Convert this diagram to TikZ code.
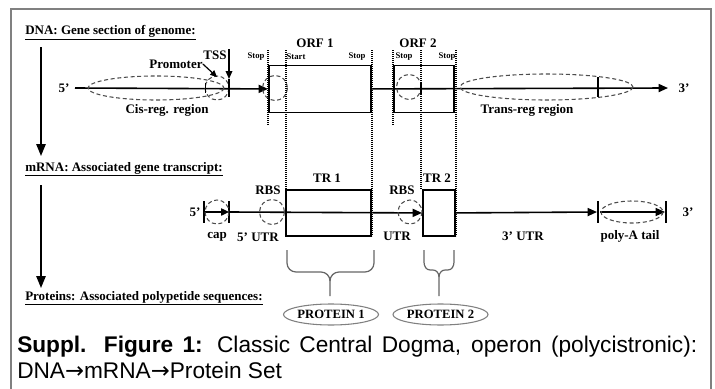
\documentclass[tikz,border=0pt]{standalone}
\usepackage{fontspec}
\setmainfont{Liberation Serif}
\newfontfamily\capfont{Liberation Sans}
\newfontfamily\arrfont{DejaVu Sans}
\usetikzlibrary{arrows.meta,shapes.geometric}
\begin{document}
\begin{tikzpicture}[x=0.75pt,y=-0.75pt,
  lbl/.style={font=\fontsize{9.75}{11}\selectfont\bfseries, inner sep=0pt},
  sml/.style={font=\fontsize{6.5}{8}\selectfont\bfseries, inner sep=0pt},
  strand/.style={line width=1.2pt},
  orfbox/.style={draw, line width=1.4pt, inner sep=0pt},
  dsh/.style={dash pattern=on 3pt off 2pt, line width=0.8pt, draw=black!70},
  dotl/.style={line width=0.8pt, dash pattern=on 0.7pt off 0.8pt},
  tip/.style={-{Triangle[length=7pt,width=6pt]}},
  bigtip/.style={line width=1.3pt,-{Triangle[length=9pt,width=7pt]}},
  bar/.style={line width=1.3pt},
  brc/.style={draw=black!60, line width=0.9pt},
  prot/.style={ellipse, draw=black!50, line width=0.8pt, inner sep=0pt,
    font=\fontsize{9.5}{11}\selectfont\bfseries}
]
\useasboundingbox (0,0) rectangle (715,389);
\fill[white] (0,0) rectangle (715,389);
\draw[black!50, line width=0.8pt] (11,395) -- (11,9) -- (711,9) -- (711,395);

% headings
\node[lbl, anchor=base west] (hdna) at (25,35) {\underline{DNA: Gene section of genome:}};
\node[lbl, anchor=base west] (hmrna) at (25,171) {\underline{mRNA: Associated gene transcript:}};
\node[lbl, anchor=base west] (hprot) at (25,300) {\underline{Proteins: Associated polypetide sequences:}};

% vertical arrows
\coordinate (va1) at (41,47); \coordinate (vb1) at (41,156);
\coordinate (va2) at (41,185); \coordinate (vb2) at (41,288);
\draw[bigtip] (va1) -- (vb1);
\draw[bigtip] (va2) -- (vb2);

% ===== DNA =====
\node[lbl] (d5lab) at (64,88) {5'};
\coordinate (d5) at (75,88);
\coordinate (d3) at (668,88);
\node[lbl] (d3lab) at (684,88) {3'};
\node[orfbox, fill=white, minimum width=76.5pt, minimum height=35.25pt, anchor=north west] (orf1) at (268,64.5) {};
\node[orfbox, minimum width=45pt, minimum height=35.25pt, anchor=north west] (orf2) at (393,64.5) {};
\draw[strand, tip] (d5) -- (orf1.west);
\draw[strand, tip] (orf1.east) -- (d3);

\draw[dsh] (156,88) ellipse [x radius=68, y radius=12];
\draw[dsh] (217,88) circle [radius=12];
\draw[line width=0.7pt] (205,83) -- (205,93);
\coordinate (tssT) at (229,79); \coordinate (tssB) at (229,97); \coordinate (tssA) at (229,49);
\draw[bar] (tssT) -- (tssB);
\node[lbl] (tss) at (215,55) {TSS};
\draw[line width=1pt, -{Triangle[length=6pt,width=5pt]}] (tssA) -- (tssT);
\node[lbl] (prom) at (176,64) {Promoter};
\coordinate (prmT) at (217,77);
\draw[line width=0.9pt, -{Triangle[length=5pt,width=4.5pt]}] (prom.east) -- (prmT);
\node[lbl] (cis) at (167,110) {Cis-reg. region};

\draw[dsh] (275,88) circle [radius=12.5];
\draw[dsh] (409,87) circle [radius=12.5];
\draw[line width=0.8pt] (421,82) -- (421,94);
\draw[dsh] (546.5,87) ellipse [x radius=86.5, y radius=13];
\draw[bar] (598,77) -- (598,97);
\node[lbl] (trans) at (527,110) {Trans-reg region};

\node[lbl] (orf1lab) at (315,43) {ORF 1};
\node[lbl] (orf2lab) at (418,43) {ORF 2};
\node[sml] (s1) at (256,57) {Stop};
\node[sml] (st1) at (296,57) {Start};
\node[sml] (s2) at (357,57) {Stop};
\node[sml] (s3) at (404,57) {Stop};
\node[sml] (s4) at (447,57) {Stop};

% dotted guides
\draw[dotl] (268,50) -- (268,125);
\draw[dotl] (286,50) -- (286,189);
\draw[dotl] (372,50) -- (372,236);
\draw[dotl] (393,50) -- (393,125);
\draw[dotl] (421,50) -- (421,189);
\draw[dotl] (456,50) -- (456,236);

% ===== mRNA =====
\node[orfbox, minimum width=63.75pt, minimum height=34.5pt, anchor=north west] (tr1) at (285,189) {};
\node[orfbox, minimum width=24pt, minimum height=34.5pt, anchor=north west] (tr2) at (422,189) {};
\node[lbl] (m5lab) at (195,212) {5'};
\coordinate (c1) at (204,212); \coordinate (c2) at (229,212);
\draw[bar] (204,201) -- (204,223);
\draw[bar] (229,201) -- (229,223);
\draw[line width=1pt, -{Triangle[length=6pt,width=5.5pt]}] (c1) -- (c2);
\draw[dsh] (217,212) circle [radius=12];
\draw[strand, tip] (c2) -- (tr2.west);
\coordinate (pa1) at (597,212); \coordinate (pa2) at (665,212);
\draw[strand, tip] (tr2.east) -- (pa1);
\draw[bar] (598,201) -- (598,223);
\draw[bar] (666,201) -- (666,223);
\draw[line width=1pt, tip] (600,212) -- (pa2);
\draw[dsh] (632,212) ellipse [x radius=31, y radius=11];
\draw[dsh] (272,212) circle [radius=12.5];
\draw[dsh] (410,212) circle [radius=12];

\node[lbl] (rbs1) at (268,190) {RBS};
\node[lbl] (rbs2) at (402,190) {RBS};
\node[lbl] (tr1lab) at (327,178) {TR 1};
\node[lbl] (tr2lab) at (437,178) {TR 2};
\node[lbl] (caplab) at (217,237) {cap};
\node[lbl] (utr5) at (258,237) {5' UTR};
\node[lbl] (utr) at (397,236) {UTR};
\node[lbl] (utr3) at (523,236) {3' UTR};
\node[lbl] (polya) at (630,236) {poly-A tail};
\node[lbl] (m3lab) at (688,212) {3'};

% ===== braces =====
\draw[brc] (287,250) -- (287,263) to[out=-90,in=180] (296,272) -- (321,272) to[out=0,in=90] (330,281) -- (330,296);
\draw[brc] (374,250) -- (374,263) to[out=-90,in=0] (365,272) -- (339,272) to[out=180,in=90] (330,281);
\draw[brc] (424,250) -- (424,262) to[out=-90,in=180] (430,270) -- (433,270) to[out=0,in=90] (439,277) -- (439,296);
\draw[brc] (454,250) -- (454,262) to[out=-90,in=0] (448,270) -- (445,270) to[out=180,in=90] (439,277);

% proteins
\node[prot, minimum width=69pt, minimum height=15.75pt] (prot1) at (331,314.5) {PROTEIN 1};
\node[prot, minimum width=63.75pt, minimum height=15.75pt] (prot2) at (440.5,314.5) {PROTEIN 2};

% caption
\node[anchor=base west, inner sep=0pt] (caption) at (17,352) {\parbox[t]{510pt}{\capfont\fontsize{17}{19.5}\selectfont \textbf{Suppl. Figure 1:} Classic Central Dogma, operon (polycistronic):\linebreak DNA{\arrfont →}mRNA{\arrfont →}Protein Set}};
\end{tikzpicture}
\end{document}
